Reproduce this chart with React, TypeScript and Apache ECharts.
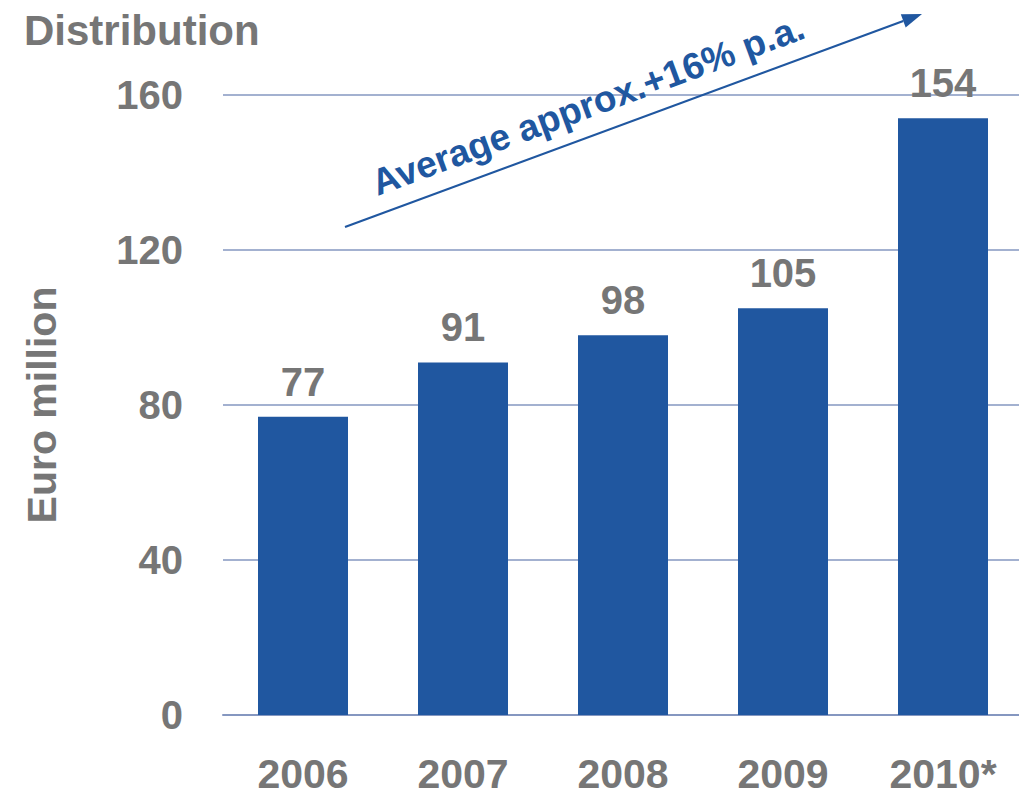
import React, { useEffect, useRef } from "react";
import * as echarts from "echarts";

const categories = ["2006", "2007", "2008", "2009", "2010*"];
const values = [77, 91, 98, 105, 154];
const yTicks = [0, 40, 80, 120, 160];

const GRAY = "#767676";
const BLUE = "#2057a0";
const GRID = "#8597c0";
const FONT = "'Liberation Sans', Arial, Helvetica, sans-serif";

export default function App() {
  const ref = useRef<HTMLDivElement>(null);
  useEffect(() => {
    if (!ref.current) return;
    const chart = echarts.init(ref.current, undefined, { renderer: "svg" });
    // arrow geometry
    const sx = 345, sy = 227, tx = 922, ty = 14;
    const dx = tx - sx, dy = ty - sy;
    const len = Math.sqrt(dx * dx + dy * dy);
    const ux = dx / len, uy = dy / len;
    const nx = -uy, ny = ux;
    const headL = 20, headW = 7;
    const bx = tx - headL * ux, by = ty - headL * uy;
    const angle = Math.atan2(-dy, dx);
    chart.setOption({
      animation: false,
      textStyle: { fontFamily: FONT },
      title: {
        text: "Distribution",
        left: 19,
        top: 4,
        textStyle: { fontSize: 42, fontWeight: "bold", color: GRAY, fontFamily: FONT },
      },
      grid: { left: 223, right: 0, top: 95, bottom: 84 },
      xAxis: {
        type: "category",
        data: categories,
        axisLine: { show: true, lineStyle: { color: GRID, width: 2 } },
        axisTick: { show: false },
        axisLabel: {
          color: GRAY,
          fontSize: 41,
          lineHeight: 38,
          fontWeight: "bold",
          margin: 40,
          fontFamily: FONT,
        },
      },
      yAxis: {
        type: "value",
        min: yTicks[0],
        max: yTicks[yTicks.length - 1],
        interval: 40,
        name: "Euro million",
        nameLocation: "middle",
        nameGap: 161,
        nameTextStyle: { color: GRAY, fontSize: 41, fontWeight: "bold", fontFamily: FONT },
        axisLine: { show: false },
        axisTick: { show: false },
        splitLine: { show: true, lineStyle: { color: GRID, width: 1.5 } },
        axisLabel: {
          color: GRAY,
          fontSize: 40,
          fontWeight: "bold",
          margin: 40,
          fontFamily: FONT,
        },
      },
      series: [
        {
          type: "bar",
          data: values,
          barWidth: 90,
          itemStyle: { color: BLUE },
          label: {
            show: true,
            position: "top",
            distance: 15,
            color: GRAY,
            fontSize: 40,
            fontWeight: "bold",
            fontFamily: FONT,
          },
        },
      ],
      graphic: [
        {
          type: "line",
          shape: { x1: sx, y1: sy, x2: bx, y2: by },
          style: { stroke: BLUE, lineWidth: 2.2 },
          z: 10,
        },
        {
          type: "polygon",
          shape: {
            points: [
              [tx, ty],
              [bx + headW * nx, by + headW * ny],
              [bx - headW * nx, by - headW * ny],
            ],
          },
          style: { fill: BLUE },
          z: 10,
        },
        {
          type: "text",
          x: 588,
          y: 105,
          rotation: angle,
          style: {
            text: "Average approx.+16% p.a.",
            fill: BLUE,
            font: `bold 37px ${FONT}`,
            align: "center",
            verticalAlign: "middle",
          },
          z: 10,
        },
      ],
    });
    return () => chart.dispose();
  }, []);
  return (
    <div style={{ position: "absolute", left: 0, top: 0, width: 1019, height: 799, overflow: "hidden", background: "#fff" }}>
      <div ref={ref} style={{ width: 1023, height: 799 }} />
    </div>
  );
}
